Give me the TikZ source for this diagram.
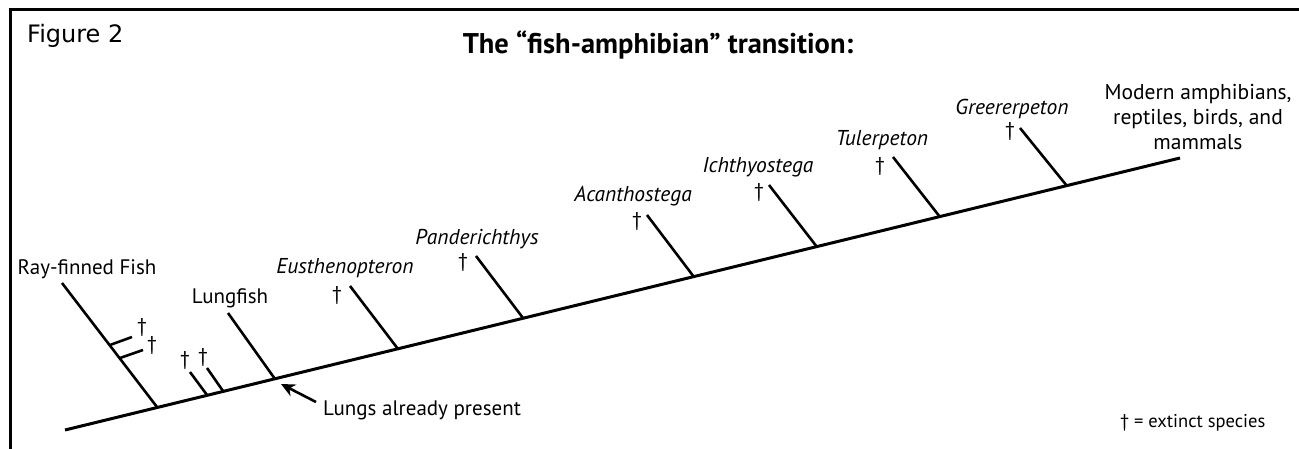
\documentclass[tikz,border=0pt]{standalone}
\usepackage{fontspec}
\setmainfont{PT Sans}
\newfontfamily\figfont{DejaVu Sans}
\usetikzlibrary{arrows.meta}
\tikzset{
  frame/.style={line width=3pt, line cap=rect},
  stem/.style={line width=2.6pt},
  mainstem/.style={line width=3pt},
  lbl/.style={inner sep=0pt, anchor=base, font=\fontsize{21}{25}\selectfont},
  sp/.style={lbl, font=\fontsize{21.5}{25}\selectfont\itshape},
  dag/.style={inner sep=0pt, font=\fontsize{20}{24}\selectfont},
}
\begin{document}
\begin{tikzpicture}[x=1pt,y=-1pt]
\useasboundingbox (0,0) rectangle (1299,449);
% frame
\coordinate (fbl) at (10,449);
\coordinate (ftl) at (10,10);
\coordinate (ftr) at (1299,10);
\draw[frame] (fbl) -- (ftl) -- (ftr);
\node[inner sep=0pt, anchor=base west, font=\figfont\fontsize{24}{28}\selectfont] (fig) at (27,43) {Figure 2};
\node[inner sep=0pt, anchor=base, font=\fontsize{28.5}{32}\selectfont\bfseries] (title) at (658,54) {The “fish-amphibian” transition:};
% main line
\coordinate (m0) at (65,430);
\coordinate (m1) at (1180,158);
\draw[mainstem] (m0) -- (m1);
% branch bases
\coordinate (brf) at (157,407);
\coordinate (bs1) at (207,395);
\coordinate (bs2) at (223,391);
\coordinate (blf) at (275,379);
\coordinate (beu) at (398,349);
\coordinate (bpa) at (523,318);
\coordinate (bac) at (694,277);
\coordinate (bic) at (817,247);
\coordinate (btu) at (940,217);
\coordinate (bgr) at (1067,186);
% tips
\coordinate (trf) at (62,283);
\coordinate (ts1) at (190,372);
\coordinate (ts2) at (207,368);
\coordinate (tlf) at (228,313);
\coordinate (teu) at (350,286);
\coordinate (tpa) at (476,256);
\coordinate (tac) at (647,215);
\coordinate (tic) at (769,185);
\coordinate (ttu) at (893,157);
\coordinate (tgr) at (1020,128);
\foreach \n in {rf,s1,s2,lf,eu,pa,ac,ic,tu,gr}{
  \draw[stem] (b\n) -- (t\n);
}
% ray-finned side branches
\coordinate (r1a) at (110,345);
\coordinate (r1b) at (132,337);
\coordinate (r2a) at (120,358);
\coordinate (r2b) at (143,350);
\draw[stem] (r1a) -- (r1b);
\draw[stem] (r2a) -- (r2b);
% daggers
\node[dag] (d1) at (142,327) {†};
\node[dag] (d2) at (152,345) {†};
\node[dag] (d3) at (185,360) {†};
\node[dag] (d4) at (203,357) {†};
\node[dag] (deu) at (337,296) {†};
\node[dag] (dpa) at (463,263) {†};
\node[dag] (dac) at (637,222) {†};
\node[dag] (dic) at (759,193) {†};
\node[dag] (dtu) at (880,167) {†};
\node[dag] (dgr) at (1010,132) {†};
% labels
\node[lbl] (lrf) at (87,275) {Ray-finned Fish};
\node[lbl] (llf) at (230,303) {Lungfish};
\node[sp] (leu) at (345,273) {Eusthenopteron};
\node[sp] (lpa) at (477,245) {Panderichthys};
\node[sp] (lac) at (633,202) {Acanthostega};
\node[sp] (lic) at (758,173) {Ichthyostega};
\node[sp] (ltu) at (882,146) {Tulerpeton};
\node[sp] (lgr) at (1012,115) {Greererpeton};
\node[lbl, align=center, anchor=north, font=\fontsize{21.5}{25}\selectfont] (lmod) at (1198,84) {Modern amphibians,\\reptiles, birds, and\\mammals};
% lungs
\node[lbl, anchor=base west] (lungs) at (323,415) {Lungs already present};
\coordinate (ah) at (281,384);
\coordinate (at) at (316,402);
\draw[stem, -{Stealth[length=14pt, width=13pt]}] (at) -- (ah);
% legend
\node[lbl, anchor=base west, font=\fontsize{18.5}{22}\selectfont] (leg) at (1120,427) {† = extinct species};
\end{tikzpicture}
\end{document}
